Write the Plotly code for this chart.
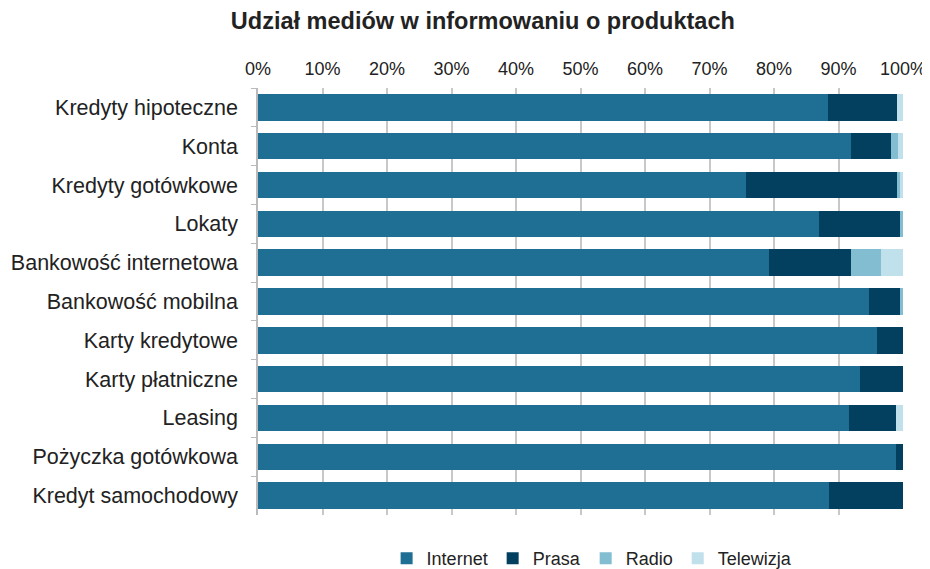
import plotly.graph_objects as go

kategorie = ['Kredyty hipoteczne', 'Konta', 'Kredyty gotówkowe', 'Lokaty',
             'Bankowość internetowa', 'Bankowość mobilna', 'Karty kredytowe',
             'Karty płatniczne', 'Leasing', 'Pożyczka gotówkowa', 'Kredyt samochodowy']

internet = [88.4, 91.9, 75.7, 87.0, 79.3, 94.7, 96.0, 93.3, 91.7, 98.9, 88.5]
prasa = [10.7, 6.2, 23.4, 12.5, 12.7, 4.9, 4.0, 6.7, 7.2, 1.1, 11.5]
radio = [0.0, 1.1, 0.5, 0.5, 4.6, 0.4, 0.0, 0.0, 0.0, 0.0, 0.0]
telewizja = [0.9, 0.8, 0.4, 0.0, 3.4, 0.0, 0.0, 0.0, 1.1, 0.0, 0.0]

serie = [('Internet', internet, '#1F6F94'),
         ('Prasa', prasa, '#03405F'),
         ('Radio', radio, '#82BDD2'),
         ('Telewizja', telewizja, '#C0E0EC')]

fig = go.Figure()
for nazwa, wartosci, kolor in serie:
    fig.add_trace(go.Bar(
        y=kategorie, x=wartosci, name=nazwa, orientation='h',
        marker=dict(color=kolor, line=dict(width=0)),
    ))

# strona ma 8px marginesu body, stąd 922x561
fig.update_layout(
    barmode='stack',
    bargap=0.32,
    width=922, height=561,
    margin=dict(l=250, r=27, t=80, b=54, autoexpand=False),
    paper_bgcolor='white', plot_bgcolor='white',
    font=dict(family='Liberation Sans, Arial, sans-serif', size=18, color='#222222'),
    title=dict(text='<b>Udział mediów w informowaniu o produktach</b>',
               x=0.515, xanchor='center', y=0.978, yanchor='middle',
               font=dict(size=23.5, color='#222222')),
    legend=dict(orientation='h', x=0.518, xanchor='center', y=-0.102, yanchor='middle',
                font=dict(size=18, color='#222222'), traceorder='normal',
                itemwidth=30, tracegroupgap=0),
)

fig.update_xaxes(
    side='top', range=[0, 100], dtick=10, ticksuffix='%',
    showgrid=True, gridcolor='#C8C8C8', gridwidth=1.5,
    zeroline=False, showline=False, ticks='', automargin=False,
    tickfont=dict(size=18), fixedrange=True, ticklabelstandoff=8,
)
fig.update_yaxes(
    autorange='reversed', showline=True, linecolor='#BBBBBB', linewidth=1.5,
    ticks='outside', tickson='boundaries', ticklen=5, tickcolor='#BBBBBB',
    tickfont=dict(size=21.5), showgrid=False, automargin=False,
    ticklabelstandoff=14,
)

fig.write_html('out.html')
